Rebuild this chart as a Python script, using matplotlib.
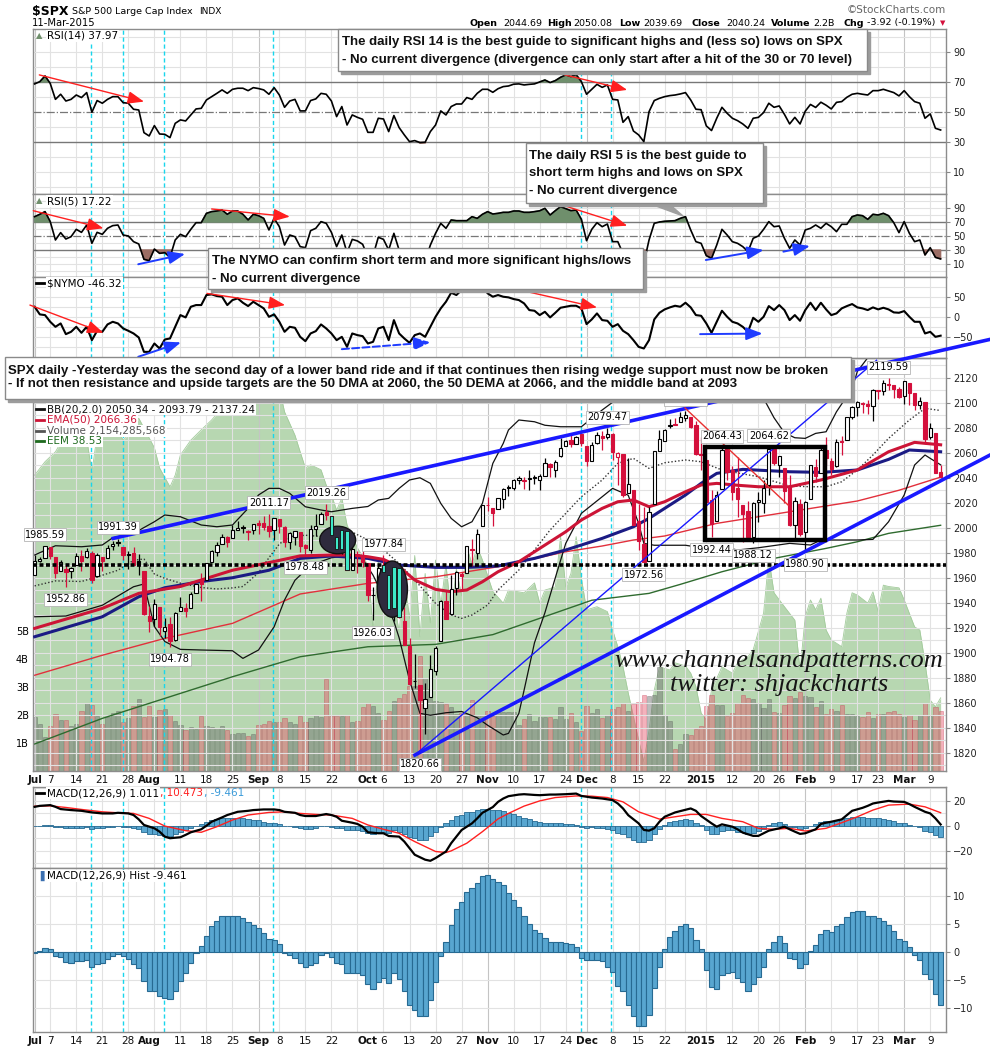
import numpy as np
import pandas as pd
import matplotlib
matplotlib.use('Agg')
import matplotlib.pyplot as plt
from matplotlib.patches import Rectangle, Ellipse, Polygon
from matplotlib.lines import Line2D

plt.rcParams['font.family'] = ['DejaVu Sans']

# ==============================================================
# DATA
# ==============================================================
holidays = ['2014-07-04', '2014-09-01', '2014-11-27', '2014-12-25',
            '2015-01-01', '2015-01-19', '2015-02-16']
dates = pd.bdate_range('2014-07-01', '2015-03-11')
dates = dates[~dates.isin(pd.to_datetime(holidays))]

opens = [
    1962.29, 1973.06, 1975.88, 1984.22, 1976.39, 1965.10, 1966.67, 1965.76, 1969.86, 1977.36,
    1976.35, 1979.75, 1961.54, 1976.93, 1975.65, 1985.32, 1988.07, 1984.60, 1978.25, 1980.03,
    1973.21, 1965.14, 1929.80, 1926.62, 1936.34, 1917.29, 1923.03, 1910.35, 1933.43, 1935.73,
    1935.60, 1947.41, 1958.87, 1958.36, 1972.73, 1980.46, 1986.82, 1992.60, 1991.74, 1998.59,
    2000.54, 1997.42, 1998.45, 2004.07, 2003.57, 2001.67, 1998.00, 2007.17, 2000.73, 1988.41,
    1992.85, 1996.74, 1986.04, 1981.93, 1999.30, 2003.07, 2012.74, 2009.08, 1992.78, 1983.34,
    1997.32, 1966.22, 1978.96, 1978.21, 1971.44, 1945.83, 1948.12, 1970.01, 1962.36, 1935.55,
    1967.68, 1925.63, 1905.65, 1877.11, 1874.18, 1855.95, 1864.91, 1885.62, 1909.38, 1941.29,
    1931.02, 1951.59, 1962.97, 1964.14, 1983.29, 1979.49, 2001.20, 2018.21, 2015.81, 2015.29,
    2023.33, 2032.36, 2032.01, 2038.20, 2037.75, 2039.21, 2039.74, 2038.29, 2041.48, 2051.16,
    2045.87, 2057.46, 2065.07, 2070.15, 2067.04, 2074.78, 2065.78, 2053.77, 2067.45, 2073.64,
    2072.78, 2074.84, 2056.55, 2058.86, 2027.92, 2030.36, 2005.03, 1986.71, 1973.77, 2018.98,
    2061.04, 2069.28, 2081.48, 2083.25, 2084.30, 2087.63, 2088.49, 2082.11, 2058.90, 2054.44,
    2022.15, 2005.55, 2030.61, 2063.45, 2046.13, 2031.58, 2018.40, 2013.75, 1992.25, 2020.76,
    2020.19, 2034.30, 2062.98, 2050.42, 2047.86, 2032.34, 2002.45, 2019.35, 1996.67, 2022.71,
    2048.86, 2043.45, 2062.28, 2053.47, 2049.38, 2068.55, 2069.98, 2088.78, 2096.47, 2099.16,
    2099.25, 2097.65, 2109.83, 2109.10, 2115.30, 2113.91, 2110.88, 2105.23, 2115.76, 2107.72,
    2098.54, 2100.91, 2072.25, 2076.14, 2044.69]
highs = [
    1978.58, 1976.67, 1985.59, 1984.22, 1976.39, 1974.15, 1969.84, 1968.67, 1979.85, 1982.52,
    1983.94, 1981.80, 1979.91, 1976.93, 1986.24, 1989.23, 1991.39, 1984.60, 1981.52, 1984.85,
    1978.90, 1965.14, 1937.35, 1942.92, 1936.34, 1927.91, 1928.89, 1932.38, 1944.90, 1939.65,
    1948.41, 1955.23, 1964.04, 1971.99, 1982.57, 1988.57, 1994.76, 1993.54, 2001.95, 2005.04,
    2002.14, 1998.55, 2003.38, 2006.12, 2009.28, 2011.17, 2007.71, 2007.17, 2001.01, 1996.66,
    1997.65, 1996.74, 1987.18, 2002.28, 2010.74, 2012.34, 2019.26, 2009.08, 1995.41, 1999.79,
    1997.32, 1986.37, 1981.28, 1985.17, 1971.44, 1952.32, 1971.19, 1977.84, 1962.36, 1970.36,
    1967.68, 1936.98, 1912.09, 1898.71, 1874.18, 1876.01, 1898.16, 1905.03, 1942.45, 1949.31,
    1961.95, 1965.27, 1964.64, 1985.05, 1991.40, 1999.40, 2018.19, 2024.46, 2015.98, 2023.77,
    2031.61, 2034.26, 2038.70, 2041.28, 2040.33, 2046.18, 2042.22, 2043.07, 2056.08, 2052.14,
    2053.84, 2071.46, 2070.17, 2074.21, 2073.29, 2075.76, 2065.78, 2068.77, 2076.28, 2077.34,
    2079.47, 2075.78, 2060.60, 2058.86, 2055.53, 2030.36, 2018.69, 2016.89, 2016.75, 2061.23,
    2077.85, 2078.76, 2086.73, 2087.56, 2092.70, 2093.55, 2088.49, 2085.58, 2072.36, 2054.44,
    2030.25, 2029.61, 2064.43, 2064.08, 2049.30, 2056.93, 2018.40, 2021.35, 2020.46, 2028.94,
    2038.29, 2064.62, 2062.98, 2057.62, 2047.86, 2042.49, 2024.64, 2023.32, 2021.66, 2050.30,
    2054.74, 2063.55, 2072.40, 2056.16, 2070.86, 2073.48, 2088.53, 2097.03, 2101.30, 2100.23,
    2102.13, 2110.61, 2110.05, 2117.94, 2119.59, 2113.91, 2112.74, 2117.52, 2115.76, 2107.72,
    2104.25, 2100.91, 2083.49, 2076.14, 2050.08]
lows = [
    1962.29, 1972.58, 1975.88, 1974.88, 1959.46, 1965.10, 1952.86, 1959.63, 1969.86, 1965.34,
    1975.67, 1955.59, 1960.82, 1965.77, 1975.65, 1982.44, 1985.79, 1974.37, 1967.31, 1969.95,
    1962.42, 1930.02, 1916.37, 1921.20, 1913.77, 1911.45, 1904.78, 1909.01, 1933.43, 1928.29,
    1935.60, 1947.41, 1941.50, 1958.36, 1972.73, 1977.68, 1986.82, 1984.76, 1991.74, 1998.59,
    1996.20, 1990.52, 1994.65, 1994.85, 1998.14, 1992.44, 1990.10, 1995.60, 1984.61, 1982.99,
    1985.93, 1980.26, 1978.48, 1979.84, 1993.29, 2003.07, 2006.59, 1991.01, 1982.44, 1978.63,
    1965.99, 1966.22, 1964.04, 1968.96, 1941.72, 1926.03, 1948.12, 1958.43, 1934.87, 1925.25,
    1927.56, 1906.05, 1874.14, 1871.79, 1820.66, 1835.02, 1864.91, 1882.30, 1909.38, 1927.11,
    1931.02, 1946.27, 1951.37, 1964.14, 1969.04, 1974.75, 2001.20, 2013.68, 2001.01, 2015.29,
    2015.86, 2025.07, 2030.17, 2035.28, 2031.26, 2030.44, 2035.20, 2030.20, 2041.48, 2040.37,
    2040.49, 2056.75, 2065.07, 2064.75, 2066.62, 2065.06, 2049.57, 2053.77, 2066.65, 2062.34,
    2070.81, 2054.27, 2034.17, 2024.26, 2027.92, 2002.33, 1982.26, 1972.56, 1973.77, 2018.98,
    2061.03, 2069.28, 2079.77, 2081.86, 2084.30, 2085.75, 2079.53, 2057.94, 2046.04, 2017.34,
    1992.44, 2005.55, 2030.61, 2038.33, 2022.58, 2008.25, 1988.44, 1991.47, 1988.12, 2004.49,
    2012.04, 2026.38, 2050.54, 2040.97, 2019.91, 2001.49, 1989.18, 1993.38, 1980.90, 2022.71,
    2036.72, 2043.45, 2049.97, 2041.88, 2048.62, 2057.99, 2069.98, 2086.70, 2089.80, 2092.15,
    2090.79, 2085.44, 2102.99, 2105.87, 2109.89, 2103.76, 2103.75, 2098.99, 2098.26, 2094.49,
    2095.22, 2067.27, 2071.25, 2044.16, 2039.69]
closes = [
    1973.32, 1974.62, 1985.44, 1977.65, 1963.71, 1972.83, 1964.68, 1967.57, 1977.10, 1973.28,
    1981.57, 1958.12, 1978.22, 1973.63, 1983.53, 1987.01, 1987.98, 1978.34, 1978.91, 1969.95,
    1970.07, 1930.67, 1925.15, 1938.99, 1920.21, 1920.24, 1909.57, 1931.59, 1936.92, 1933.75,
    1946.72, 1955.18, 1955.06, 1971.74, 1981.60, 1986.51, 1992.37, 1988.40, 1997.92, 2000.02,
    2000.12, 1996.74, 2003.37, 2002.28, 2000.72, 1997.65, 2007.71, 2001.54, 1988.44, 1995.69,
    1997.45, 1985.54, 1984.13, 1998.98, 2001.57, 2011.36, 2010.40, 1994.29, 1982.77, 1998.30,
    1965.99, 1982.85, 1977.80, 1972.29, 1946.16, 1946.17, 1967.90, 1964.82, 1935.10, 1968.89,
    1928.21, 1906.13, 1874.74, 1877.70, 1862.49, 1862.76, 1886.76, 1904.01, 1941.28, 1927.11,
    1950.82, 1964.58, 1961.63, 1985.05, 1982.30, 1994.65, 2018.05, 2017.81, 2012.10, 2023.57,
    2031.21, 2031.92, 2038.26, 2039.68, 2038.25, 2039.33, 2039.82, 2041.32, 2051.80, 2048.72,
    2052.75, 2063.50, 2069.41, 2067.03, 2072.83, 2067.56, 2053.44, 2066.55, 2074.33, 2071.92,
    2075.37, 2060.31, 2059.82, 2026.14, 2035.33, 2002.33, 1989.63, 1972.74, 2012.89, 2061.23,
    2070.65, 2078.54, 2082.17, 2081.88, 2088.77, 2090.57, 2080.35, 2058.90, 2058.20, 2020.58,
    2002.61, 2025.90, 2062.14, 2044.81, 2028.26, 2023.03, 2011.27, 1992.67, 2019.42, 2022.55,
    2032.12, 2063.15, 2051.82, 2057.09, 2029.55, 2002.16, 2021.25, 1994.99, 2020.85, 2050.03,
    2041.51, 2062.52, 2055.47, 2046.74, 2068.59, 2068.53, 2088.48, 2096.99, 2100.34, 2099.68,
    2097.45, 2110.30, 2109.66, 2115.48, 2113.86, 2110.74, 2104.50, 2117.39, 2107.78, 2098.53,
    2101.04, 2071.26, 2079.43, 2044.16, 2040.24]
volume_b = [
    1.92, 1.68, 1.21, 1.60, 2.03, 1.82, 1.82, 1.59, 1.68, 2.15,
    2.42, 2.35, 1.98, 1.68, 1.92, 2.07, 2.15, 1.74, 1.88, 2.33,
    2.56, 1.94, 2.33, 1.94, 2.19, 2.23, 2.01, 1.80, 1.65, 1.48,
    1.56, 1.50, 1.98, 1.62, 1.56, 1.54, 1.62, 1.45, 1.33, 1.37,
    1.37, 1.26, 1.33, 1.65, 1.68, 1.78, 1.74, 1.74, 1.89, 1.74,
    1.68, 1.96, 1.74, 1.89, 2.01, 1.92, 3.27, 1.98, 1.98, 1.98,
    2.01, 1.74, 1.80, 2.29, 2.44, 2.33, 2.07, 1.82, 2.15, 2.50,
    2.60, 2.76, 3.05, 3.05, 4.12, 3.33, 2.93, 2.50, 2.48, 2.38,
    2.28, 2.02, 2.08, 2.02, 2.52, 1.98, 2.01, 2.15, 1.98, 2.16,
    2.09, 2.09, 2.10, 1.66, 1.86, 2.03, 1.80, 1.94, 1.92, 1.94,
    1.86, 2.29, 1.86, 2.07, 1.74, 1.42, 2.33, 2.07, 2.21, 1.91,
    2.01, 2.22, 2.27, 2.42, 2.13, 2.41, 2.48, 2.70, 2.68, 2.70,
    3.70, 2.01, 1.80, 0.80, 0.98, 1.31, 1.30, 1.50, 1.60, 2.33,
    2.70, 2.36, 2.36, 1.98, 2.07, 2.44, 2.70, 2.60, 2.57, 2.44,
    2.26, 2.57, 2.09, 2.07, 2.35, 2.68, 2.60, 2.83, 2.68, 2.64,
    2.27, 2.50, 2.02, 2.23, 2.14, 2.35, 2.04, 2.04, 1.96, 1.92,
    2.10, 1.89, 2.04, 2.04, 2.10, 2.14, 2.02, 1.92, 2.00, 1.82,
    2.00, 2.44, 1.96, 2.27, 2.15]

eem_idx = [0, 2, 4, 5, 6, 8, 10, 11, 12, 13, 14, 15, 17, 19, 20, 21, 23, 24, 26, 27,
           28, 30, 32, 34, 36, 38, 39, 41, 43, 45, 47, 48, 50, 51, 52, 53, 55, 56, 57, 58,
           59, 60, 62, 64, 65, 66, 67, 68, 70, 71, 72, 73, 74, 75, 76, 77, 78, 79, 80, 81,
           82, 83, 84, 85, 86, 88, 90, 91, 94, 96, 97, 98, 100, 101, 102, 103, 104, 105, 106, 108,
           110, 111, 112, 113, 114, 116, 117, 118, 119, 120, 122, 123, 125, 126, 127, 128, 129, 130, 132, 134,
           135, 137, 138, 140, 141, 142, 144, 146, 147, 148, 149, 150, 151, 152, 153, 155, 156, 157, 158, 160,
           161, 162, 163, 164, 166, 167, 169, 170, 171, 172, 173, 174]
eem_val = [43.49, 43.79, 44.01, 44.21, 44.27, 44.43, 44.30, 43.56, 44.38, 44.61, 44.38, 44.72, 44.27, 44.50, 44.76, 44.54, 44.10, 43.65, 43.23, 43.49,
           43.94, 44.27, 44.50, 44.72, 44.99, 45.28, 45.65, 45.88, 45.95, 45.80, 45.43, 44.90, 44.38, 44.01, 43.65, 43.72, 43.61, 43.27, 43.05, 42.71,
           42.98, 42.38, 41.87, 41.49, 40.04, 41.60, 40.40, 41.40, 40.00, 41.20, 40.30, 41.70, 39.89, 41.30, 40.20, 41.60, 40.60, 41.50, 40.40, 41.40,
           40.80, 41.90, 41.50, 41.90, 41.60, 40.90, 40.64, 40.93, 40.87, 41.09, 40.64, 40.93, 41.00, 42.12, 41.00, 41.30, 42.12, 41.20, 40.49, 40.56,
           40.45, 40.04, 39.67, 39.22, 38.64, 37.59, 37.11, 37.81, 38.70, 39.22, 39.15, 39.31, 39.24, 39.08, 38.78, 38.19, 38.04, 38.70, 39.22, 39.08,
           39.31, 39.45, 39.60, 40.42, 41.64, 40.87, 40.56, 40.26, 39.15, 40.34, 40.71, 40.49, 40.75, 40.04, 39.82, 39.67, 40.42, 40.87, 40.82, 40.64,
           40.89, 40.45, 41.04, 41.01, 40.98, 40.71, 40.11, 40.04, 39.31, 38.48, 38.33, 38.53]

rsi14 = [
    68.7, 70.2, 74.0, 69.0, 58.4, 61.8, 57.3, 58.4, 61.3, 59.6,
    62.9, 49.8, 57.6, 55.8, 58.4, 60.2, 60.2, 56.2, 55.8, 51.8,
    51.3, 36.2, 34.0, 40.9, 35.3, 35.1, 32.9, 42.4, 44.7, 44.0,
    48.0, 52.0, 52.4, 58.0, 60.2, 62.4, 64.7, 62.4, 65.1, 65.8,
    65.8, 64.2, 66.2, 65.6, 64.7, 61.8, 66.2, 61.3, 53.1, 57.3,
    58.4, 50.7, 50.7, 57.6, 58.7, 62.4, 61.8, 57.3, 46.9, 53.6,
    41.3, 48.0, 46.4, 45.1, 36.4, 36.4, 45.8, 45.3, 36.9, 47.6,
    39.6, 34.7, 30.2, 30.9, 29.6, 29.8, 36.9, 41.3, 50.7, 48.0,
    53.6, 55.3, 55.3, 59.6, 58.4, 62.4, 65.1, 65.1, 63.1, 65.5,
    66.9, 67.3, 68.5, 68.7, 68.0, 68.4, 68.7, 70.0, 71.3, 69.6,
    70.9, 73.1, 74.7, 73.6, 74.9, 70.2, 61.8, 65.1, 68.4, 66.4,
    68.0, 58.4, 58.0, 43.1, 46.9, 37.3, 34.7, 30.2, 50.2, 57.6,
    59.1, 60.2, 60.9, 61.3, 62.0, 62.9, 58.0, 51.8, 51.5, 40.7,
    37.6, 45.8, 53.1, 49.1, 45.8, 44.2, 42.0, 39.1, 45.8, 46.4,
    49.6, 55.8, 53.1, 54.0, 48.4, 42.0, 46.4, 42.0, 50.5, 55.0,
    53.0, 56.5, 54.5, 52.0, 56.4, 56.9, 59.8, 61.8, 62.4, 61.8,
    61.3, 64.2, 64.2, 65.1, 64.0, 62.9, 60.7, 64.2, 60.2, 56.9,
    55.8, 45.8, 48.7, 39.1, 37.97]
rsi5 = [
    77.6, 81.0, 84.8, 70.5, 44.3, 54.8, 45.7, 49.0, 59.5, 55.2,
    65.7, 39.5, 55.2, 52.4, 61.0, 64.8, 65.7, 51.4, 50.0, 41.9,
    38.6, 16.7, 14.8, 31.4, 25.2, 26.2, 19.5, 44.3, 52.4, 49.0,
    59.5, 69.0, 69.0, 82.4, 84.8, 85.7, 87.1, 81.0, 85.7, 85.7,
    81.0, 72.9, 81.0, 79.0, 75.2, 58.6, 75.2, 63.3, 37.1, 51.4,
    49.0, 34.8, 33.3, 57.6, 61.0, 70.5, 68.1, 55.2, 34.8, 51.4,
    26.2, 45.2, 42.9, 38.1, 20.0, 22.0, 48.1, 45.2, 30.0, 53.8,
    30.0, 20.0, 12.0, 14.0, 10.0, 14.0, 37.0, 53.8, 68.0, 61.0,
    72.9, 71.9, 71.9, 71.9, 77.6, 75.2, 81.0, 84.8, 81.4, 82.4,
    83.8, 83.8, 85.7, 85.7, 83.8, 83.8, 84.8, 86.0, 89.5, 80.0,
    86.2, 91.9, 89.0, 86.2, 87.1, 73.8, 43.3, 59.5, 69.0, 63.3,
    67.1, 41.9, 41.9, 25.0, 30.0, 18.0, 14.0, 11.0, 44.3, 68.1,
    70.0, 71.0, 71.5, 71.9, 75.2, 77.6, 58.6, 41.9, 39.5, 21.9,
    18.1, 37.1, 59.5, 51.4, 41.9, 39.5, 34.8, 27.6, 46.7, 50.0,
    59.5, 70.5, 63.3, 64.3, 46.7, 32.4, 44.3, 37.1, 58.6, 61.0,
    65.7, 61.0, 68.1, 63.3, 56.2, 66.7, 66.7, 77.6, 80.0, 79.0,
    73.8, 81.0, 80.0, 82.4, 79.0, 69.0, 54.8, 70.5, 53.8, 41.9,
    44.3, 22.9, 33.3, 19.5, 17.22]
nymo = [
    25.8, 6.7, 5.0, -11.7, -24.2, -15.8, -42.5, -36.7, -24.2, -39.2,
    -24.2, -57.5, -34.2, -36.7, -18.3, -11.7, -15.8, -28.3, -34.2, -40.8,
    -50.8, -86.7, -86.7, -65.8, -78.3, -55.8, -53.3, -24.2, 5.0, -0.8,
    25.8, 30.0, 30.0, 55.0, 56.7, 52.5, 50.8, 30.0, 42.5, 46.7,
    35.8, 27.5, 38.3, 30.0, 21.7, 0.8, 6.7, -11.7, -36.7, -24.2,
    -26.7, -49.2, -60.0, -40.8, -35.0, -18.3, -28.3, -40.8, -57.5, -49.2,
    -74.2, -40.8, -45.0, -47.5, -65.8, -61.7, -28.3, -24.2, -57.5, -7.5,
    -40.8, -53.3, -64.2, -45.0, -40.8, -49.2, -24.2, 0.8, 21.7, 38.3,
    60.8, 55.0, 67.5, 63.3, 74.2, 67.5, 77.5, 59.2, 50.8, 55.0,
    50.8, 49.2, 45.0, 42.5, 34.2, 17.5, 15.8, 5.0, 13.3, -0.8,
    10.8, 23.3, 25.8, 28.3, 28.3, 21.7, -17.5, -5.8, 9.2, -7.5,
    -9.2, -24.2, -17.5, -34.2, -42.5, -57.5, -74.2, -78.3, -57.5, -5.8,
    10.8, 19.2, 24.2, 28.3, 25.8, 35.8, 24.2, 5.0, 3.3, -15.8,
    -39.2, -11.7, 15.8, 0.8, -11.7, -15.8, -24.2, -36.7, -1.7, -11.7,
    0.8, 27.5, 17.5, 30.0, 17.5, -7.5, 5.0, -9.2, 17.5, 35.8,
    17.5, 35.8, 19.2, 5.0, 9.2, 21.7, 27.5, 32.5, 24.2, 21.7,
    17.5, 24.2, 19.2, 23.3, 19.2, 11.7, 10.8, 15.0, 0.8, -11.7,
    -11.7, -40.8, -36.7, -49.2, -46.32]

macd_idx = [0, 1, 3, 4, 5, 7, 9, 11, 13, 15, 16, 18, 19, 20, 21, 23, 24, 25, 26, 28,
            29, 30, 32, 33, 34, 36, 37, 38, 39, 41, 42, 44, 46, 47, 48, 50, 51, 52, 54, 55,
            56, 57, 58, 59, 61, 62, 63, 64, 66, 67, 68, 70, 71, 72, 73, 75, 76, 77, 79, 80,
            81, 82, 84, 85, 86, 88, 89, 90, 91, 93, 94, 96, 97, 99, 100, 102, 104, 105, 107, 109,
            111, 112, 113, 114, 116, 117, 118, 119, 120, 121, 123, 126, 127, 128, 130, 131, 132, 134, 135, 136,
            138, 139, 140, 141, 143, 144, 145, 146, 147, 148, 150, 151, 152, 153, 155, 156, 157, 159, 160, 161,
            162, 164, 165, 167, 168, 169, 171, 172, 173, 174]
macd_val = [15.2, 16.0, 16.6, 15.2, 13.4, 12.6, 12.0, 10.7, 9.9, 9.9, 10.4, 9.9, 8.6, 5.1, 0.6, -2.1, -4.8, -8.8, -10.1, -9.3,
            -7.4, -5.3, -2.9, 0.0, 3.2, 6.7, 8.6, 9.9, 11.2, 12.0, 12.6, 13.1, 13.1, 12.6, 11.2, 10.4, 8.6, 7.8, 7.8, 8.6,
            9.4, 8.6, 7.2, 4.0, 2.4, 1.4, -0.8, -5.3, -6.1, -6.1, -8.3, -8.8, -12.8, -18.1, -23.4, -27.4, -28.3, -26.1, -20.8, -14.1,
            -8.8, -3.5, 1.9, 5.9, 10.4, 15.0, 19.2, 21.9, 23.8, 25.1, 25.4, 24.8, 24.6, 25.1, 25.1, 25.4, 25.9, 24.0, 22.7, 21.9,
            20.6, 17.9, 13.9, 8.5, 1.9, -3.4, -4.0, -2.1, 3.2, 7.2, 10.7, 13.9, 12.0, 7.8, 1.9, -0.8, 1.1, -0.8, -2.9, -5.6,
            -8.2, -8.2, -6.1, -4.0, -2.1, -0.8, -2.9, -4.8, -6.6, -6.1, -2.9, 1.4, 2.4, 3.2, 5.1, 8.6, 12.0, 14.4, 16.0, 17.9,
            18.7, 20.0, 19.5, 19.2, 17.4, 15.2, 11.2, 9.9, 5.9, 1.011]
signal_idx = [0, 3, 6, 9, 13, 16, 19, 22, 25, 29, 32, 35, 38, 41, 45, 48, 51, 54, 57, 61,
              64, 67, 70, 73, 77, 79, 80, 83, 86, 88, 89, 91, 94, 97, 100, 104, 107, 110, 113, 116,
              120, 123, 126, 129, 132, 136, 139, 142, 145, 148, 152, 155, 158, 161, 164, 168, 171, 174]
signal_val = [15.7, 16.0, 14.7, 13.1, 11.2, 10.4, 9.9, 5.9, -0.3, -4.0, -5.3, -0.8, 4.6, 8.6, 10.7, 11.2, 9.9, 9.1, 8.6, 5.9,
              0.6, -2.9, -6.1, -12.8, -20.8, -21.6, -20.3, -14.1, -4.8, 2.0, 5.5, 9.9, 15.8, 20.0, 22.7, 24.0, 23.8, 22.7, 19.2, 11.2,
              5.3, 7.2, 9.1, 9.1, 5.9, 3.2, -2.1, -2.9, -2.1, -4.3, -2.1, 2.4, 7.2, 12.6, 16.6, 17.4, 15.2, 10.473]
macd_hist = [
    -0.2, 0.1, 0.7, 0.5, -0.8, -0.9, -1.8, -2.0, -1.7, -1.7,
    -1.4, -2.6, -2.1, -2.0, -1.3, -0.7, -0.3, -0.8, -1.3, -2.1,
    -2.9, -5.2, -7.0, -7.0, -7.8, -8.2, -8.4, -6.9, -5.1, -3.8,
    -2.0, -0.1, 1.1, 2.8, 4.6, 5.6, 6.5, 6.5, 6.5, 6.5,
    6.1, 5.3, 4.8, 4.2, 3.3, 2.3, 2.2, 1.4, -0.1, -0.6,
    -1.1, -2.0, -2.7, -2.3, -2.0, -0.5, -0.1, -0.9, -2.0, -2.1,
    -3.8, -3.8, -3.8, -4.1, -5.7, -6.6, -5.3, -4.7, -5.6, -3.8,
    -4.9, -6.9, -9.4, -10.3, -11.5, -11.4, -8.6, -5.4, -0.7, 1.8,
    4.9, 7.7, 8.9, 10.8, 11.4, 12.3, 13.5, 13.7, 13.0, 12.5,
    12.0, 10.5, 9.2, 8.0, 6.5, 5.0, 3.9, 3.3, 2.5, 1.8,
    1.8, 1.8, 1.6, 1.4, 0.8, -1.1, -1.5, -1.4, -1.5, -1.7,
    -2.7, -3.5, -6.1, -7.0, -9.5, -11.5, -13.3, -13.2, -11.2, -6.4,
    -2.6, 0.5, 2.6, 3.7, 4.6, 5.0, 4.3, 2.1, 0.5, -3.2,
    -6.3, -6.6, -4.2, -3.8, -3.6, -4.7, -5.4, -6.9, -5.7, -4.5,
    -2.7, 0.5, 1.8, 2.8, 1.6, -1.0, -1.3, -2.9, -2.1, 0.1,
    1.2, 3.2, 3.9, 3.5, 4.6, 5.0, 6.2, 7.1, 7.4, 7.3,
    6.5, 6.5, 6.1, 5.6, 4.8, 3.7, 2.3, 1.9, 0.9, -0.5,
    -1.4, -3.9, -4.9, -7.6, -9.46]

# overlays on the price chart (bar index, value)
bb_up_idx = [0, 4, 9, 13, 15, 19, 23, 25, 28, 32, 35, 38, 41, 43, 45, 47, 49, 52, 55, 57,
             61, 64, 66, 68, 70, 72, 74, 76, 78, 80, 82, 84, 86, 88, 90, 91, 93, 96, 98, 101,
             105, 109, 112, 114, 116, 118, 122, 126, 130, 134, 137, 140, 142, 144, 146, 148, 150, 152, 154, 157,
             158, 160, 163, 168, 171, 174]
bb_up_val = [1978.2, 1985.6, 1984.8, 1986.2, 1992.0, 1995.5, 2004.8, 2010.2, 2008.8, 2002.2, 2000.8, 2002.2, 2015.5, 2026.2, 2031.5, 2031.5, 2027.5, 2016.8, 2014.2, 2012.8,
             2015.5, 2017.0, 2022.2, 2023.5, 2031.5, 2038.2, 2040.0, 2035.5, 2019.5, 2007.5, 2000.8, 2004.8, 2019.5, 2051.5, 2067.5, 2078.2, 2086.2, 2084.8, 2082.0, 2080.8,
             2080.8, 2094.2, 2103.5, 2111.5, 2118.0, 2122.0, 2120.0, 2117.0, 2118.0, 2115.0, 2110.0, 2103.5, 2088.0, 2076.0, 2072.0, 2071.5, 2075.5, 2076.8, 2092.8, 2111.5,
             2125.0, 2136.0, 2142.0, 2141.0, 2139.0, 2137.24]
bb_mid_idx = [0, 4, 9, 13, 16, 19, 21, 23, 25, 28, 32, 35, 38, 40, 43, 45, 47, 49, 52, 55,
              57, 61, 64, 67, 70, 73, 77, 80, 82, 84, 87, 89, 93, 96, 99, 102, 105, 109, 112, 115,
              118, 121, 125, 128, 132, 139, 145, 149, 152, 155, 158, 161, 164, 168, 171, 174]
bb_mid_val = [1953.5, 1957.5, 1957.0, 1962.0, 1966.0, 1974.0, 1975.0, 1963.0, 1959.5, 1955.7, 1952.2, 1951.0, 1951.9, 1953.0, 1964.0, 1976.0, 1987.0, 1993.0, 1994.0, 1993.0,
              1995.0, 1996.5, 1990.2, 1982.2, 1971.5, 1958.2, 1939.5, 1930.2, 1927.5, 1930.2, 1938.2, 1950.2, 1966.2, 1982.2, 1998.2, 2011.5, 2024.8, 2038.2, 2051.5, 2055.5,
              2047.5, 2052.0, 2054.2, 2052.8, 2046.2, 2040.8, 2033.4, 2032.8, 2032.8, 2036.8, 2046.2, 2058.2, 2071.5, 2086.2, 2095.5, 2093.79]
bb_low_idx = [0, 6, 13, 19, 21, 23, 25, 28, 32, 38, 40, 43, 46, 48, 50, 53, 57, 61, 63, 65,
              67, 69, 70, 72, 74, 76, 79, 82, 85, 87, 90, 91, 93, 94, 96, 98, 100, 102, 105, 109,
              111, 114, 116, 117, 119, 122, 125, 128, 132, 135, 139, 145, 149, 151, 158, 161, 164, 167, 169, 171,
              172, 174]
bb_low_val = [1928.8, 1929.4, 1938.0, 1952.8, 1955.0, 1921.0, 1909.0, 1902.7, 1902.2, 1901.6, 1895.5, 1902.2, 1920.8, 1942.2, 1958.0, 1970.0, 1976.0, 1978.0, 1975.0, 1962.0,
              1945.0, 1925.0, 1912.0, 1878.0, 1851.5, 1850.0, 1852.0, 1853.0, 1848.0, 1842.0, 1834.2, 1835.5, 1851.5, 1870.0, 1908.0, 1932.0, 1960.0, 1987.5, 2011.5, 2024.8,
              2031.5, 2026.0, 2003.5, 1987.5, 1986.0, 1986.0, 1986.0, 1984.0, 1984.8, 1982.2, 1984.0, 1987.5, 1986.2, 1990.2, 1990.2, 1990.7, 2004.8, 2026.2, 2050.2, 2058.2,
              2055.5, 2050.34]
ema50_idx = [0, 13, 20, 28, 38, 46, 51, 57, 61, 64, 67, 70, 73, 77, 80, 83, 86, 89, 93, 96,
             99, 102, 105, 109, 112, 115, 118, 121, 125, 128, 131, 135, 139, 145, 151, 158, 164, 169, 174]
ema50_val = [1919.5, 1935.5, 1947.5, 1953.0, 1966.0, 1973.0, 1977.5, 1978.2, 1978.2, 1976.8, 1974.7, 1968.8, 1958.2, 1950.7, 1948.8, 1950.2, 1956.8, 1964.8, 1972.8, 1980.8,
             1988.8, 1996.8, 2006.2, 2015.5, 2020.8, 2022.2, 2016.8, 2020.8, 2028.8, 2034.2, 2035.5, 2034.0, 2032.8, 2032.8, 2038.2, 2046.2, 2060.8, 2068.3, 2066.36]
sma50_idx = [0, 13, 20, 25, 32, 38, 45, 51, 57, 64, 70, 77, 83, 89, 96, 102, 109, 115, 118, 121,
             125, 128, 131, 136, 145, 151, 158, 164, 168, 174]
sma50_val = [1912.8, 1928.8, 1944.8, 1952.0, 1957.0, 1960.0, 1966.0, 1975.5, 1977.4, 1975.5, 1970.2, 1968.3, 1968.3, 1969.4, 1975.5, 1982.2, 1991.5, 2000.8, 2007.5, 2015.5,
             2026.2, 2035.5, 2043.5, 2046.7, 2044.8, 2044.3, 2046.2, 2054.7, 2062.2, 2060.8]
ma100_idx = [0, 13, 25, 38, 51, 64, 77, 83, 89, 102, 109, 115, 121, 131, 145, 158, 166, 174]
ma100_val = [1882.0, 1898.0, 1911.5, 1923.5, 1947.0, 1955.5, 1960.8, 1964.8, 1968.8, 1980.8, 1985.4, 1990.2, 1993.4, 2003.5, 2012.8, 2021.4, 2030.0, 2040.5]
sma200_idx = [0, 13, 25, 38, 51, 64, 77, 88, 107, 118, 124, 132, 142, 152, 158, 164, 174]
sma200_val = [1827.0, 1847.5, 1863.5, 1880.8, 1896.8, 1904.8, 1906.7, 1914.5, 1942.0, 1947.5, 1954.7, 1964.8, 1975.5, 1983.5, 1988.8, 1995.5, 2001.98]

# hand-drawn annotations (bar index, value)
marker_days = [10.9, 17.0, 24.9, 45.8, 104.9, 110.7]
upper_channel = [(15.1, 1991.5), (183.5, 2150.7)]
lower_channel = [(73.05, 1818.2), (183.5, 2058.2)]
steep_line = [(73.05, 1818.2), (161.7, 2134.0)]
red_diag = [(124.9, 2095.8), (144.7, 2018.2)]
support_level = 1970.2
range_box = (128.7, 1990.2, 151.8, 2064.8)
highlight_1 = [57, 58, 59, 60]
highlight_2 = [67, 68, 69, 70]
price_labels = [(2, 'h'), (16, 'h'), (6, 'l'), (26, 'l'), (45, 'h'), (56, 'h'), (52, 'l'),
                (67, 'h'), (65, 'l'), (74, 'l'), (110, 'h'), (125, 'h'), (132, 'h'), (141, 'h'),
                (117, 'l'), (130, 'l'), (138, 'l'), (148, 'l'), (164, 'h')]
rsi14_arrows = [((0.9, 74.7), (21.0, 56.9), 'r'), ((101.8, 74.7), (113.8, 64.7), 'r')]
rsi5_arrows = [((-0.25, 86.1), (13.2, 61.0), 'r'), ((34.0, 88.6), (49.0, 77.6), 'r'),
               ((19.9, 9.6), (28.9, 24.3), 'b'), ((99.9, 97.6), (113.8, 64.7), 'r'),
               ((128.9, 15.7), (140.0, 30.0), 'b'), ((143.8, 27.6), (148.9, 35.7), 'b')]
nymo_arrows = [((-0.9, 30), (13.2, -39), 'r'), ((19.9, -99), (28.1, -63), 'b'),
               ((33.1, 59), (48.1, 30), 'r'), ((59, -80), (76, -63), 'bd'),
               ((93.2, 67.5), (108, 24), 'r'), ((127.8, -42.5), (139.8, -41), 'b')]

# ==============================================================
# LAYOUT
# ==============================================================
W, H = 990, 1051
fig = plt.figure(figsize=(W / 100, H / 100), dpi=100)
fig.patch.set_facecolor('white')
n = len(closes)
x = np.arange(n)
XL = (-0.31, 175.03)
RED = '#d4103c'
GRID = '#e2e2e2'


def fx(px):
    return px / W


def fy(py):
    return 1 - py / H


def rect(top, bottom):
    return [fx(33), fy(bottom), 913 / W, (bottom - top) / H]


month_starts = [i for i in range(n) if i == 0 or dates[i].month != dates[i - 1].month]
week_starts = [i for i in range(n) if i == 0 or
               dates[i].isocalendar()[1] != dates[i - 1].isocalendar()[1]]
tick_pos, tick_lab, tick_bold = [], [], []
for i in range(n):
    if i in month_starts:
        tick_pos.append(i)
        tick_lab.append('2015' if dates[i].month == 1 else dates[i].strftime('%b'))
        tick_bold.append(True)
    elif i in week_starts:
        if any(0 < m - i <= 3 or 0 < i - m <= 2 for m in month_starts):
            continue
        tick_pos.append(i)
        tick_lab.append(str(dates[i].day))
        tick_bold.append(False)


def setup(ax, ylim, yticks, ylabels=None, hgrid=()):
    ax.set_xlim(XL)
    ax.set_ylim(ylim)
    ax.yaxis.tick_right()
    ax.set_yticks(yticks)
    if ylabels is not None:
        ax.set_yticklabels(ylabels)
    ax.tick_params(axis='y', length=3, labelsize=7, colors='#888', labelcolor='#222', pad=2)
    ax.tick_params(axis='x', length=0, labelbottom=False)
    for s in ax.spines.values():
        s.set_color('#8c8c8c')
        s.set_linewidth(1)
    for w in week_starts:
        ax.axvline(w, color='#c4c4c4' if w in month_starts else GRID, lw=0.8, zorder=0)
    for g in hgrid:
        ax.axhline(g, color=GRID, lw=0.8, zorder=0)
    for d in marker_days:
        ax.axvline(d, color='#18d6ec', lw=1.0, ls=(0, (3, 2)), zorder=1)


def arrow(ax, p0, p1, kind):
    color = '#ff1f1f' if kind.startswith('r') else '#1f3cff'
    ax.annotate('', xy=p1, xytext=p0, annotation_clip=False,
                arrowprops=dict(arrowstyle='-|>,head_length=0.9,head_width=0.35',
                                color=color, lw=1.0 if kind == 'r' else 1.4,
                                ls='--' if kind == 'bd' else '-',
                                shrinkA=0, shrinkB=0, mutation_scale=11))


def rsi_panel(ax, vals, ylim):
    vals = np.array(vals)
    setup(ax, ylim, [10, 30, 50, 70, 90], hgrid=[0, 10, 20, 40, 60, 80, 90, 100])
    ax.axhline(70, color='#777', lw=1.0, zorder=1)
    ax.axhline(30, color='#777', lw=1.0, zorder=1)
    ax.axhline(50, color='#777', lw=0.9, ls='-.', zorder=1)
    ax.fill_between(x, vals, 70, where=vals >= 70, interpolate=True, color='#6f8f6c', zorder=2)
    ax.fill_between(x, vals, 30, where=vals <= 30, interpolate=True, color='#9c6d64', zorder=2)
    ax.plot(x, vals, color='black', lw=1.2, zorder=3)


# ---------------- RSI(14) ----------------
ax_r14 = fig.add_axes(rect(29, 194))
rsi_panel(ax_r14, rsi14, (-4.7, 105.3))
for p0, p1, k in rsi14_arrows:
    arrow(ax_r14, p0, p1, k)

# ---------------- RSI(5) ----------------
ax_r5 = fig.add_axes(rect(194, 277))
rsi_panel(ax_r5, rsi5, (-8.6, 110))
for p0, p1, k in rsi5_arrows:
    arrow(ax_r5, p0, p1, k)

# ---------------- NYMO ----------------
ax_ny = fig.add_axes(rect(277, 358))
setup(ax_ny, (-102, 100), [-50, 0, 50], hgrid=[-75, -50, -25, 0, 25, 50, 75])
ax_ny.plot(x, nymo, color='black', lw=1.5, zorder=3)
for p0, p1, k in nymo_arrows:
    arrow(ax_ny, p0, p1, k)

# ---------------- price panel (EEM area, volume, price) ----------------
r_main = rect(358, 771)
ax_eem = fig.add_axes(r_main, zorder=1, label='eem')
ax_eem.set_xlim(XL)
ax_eem.set_ylim(36.9, 46.1)
ax_eem.axis('off')
ax_eem.fill_between(eem_idx, eem_val, 36.9, color='#b7d7b1', lw=0)
ax_eem.plot(eem_idx, eem_val, color='#a3cb9c', lw=0.6)

ax_vol = fig.add_axes(r_main, zorder=2, label='vol')
ax_vol.patch.set_visible(False)
ax_vol.set_xlim(XL)
ax_vol.set_ylim(0, 14.75)
for s in ax_vol.spines.values():
    s.set_visible(False)
ax_vol.set_xticks([])
ax_vol.set_yticks([1, 2, 3, 4, 5])
ax_vol.set_yticklabels(['1B', '2B', '3B', '4B', '5B'])
ax_vol.tick_params(axis='y', length=0, labelsize=7, pad=3)
o, h, l, c = (np.array(v) for v in (opens, highs, lows, closes))
prev = np.r_[o[0], c[:-1]]
down = c < prev
ax_vol.bar(x, volume_b, 0.82, color=np.where(down, '#e8546c', '#6a6a6a'), alpha=0.45,
           edgecolor=np.where(down, '#c0304a', '#555555'), linewidth=0.5)

ax = fig.add_axes(r_main, zorder=3, label='main')
ax.patch.set_visible(False)
setup(ax, (1805.4, 2135.8), np.arange(1820, 2121, 20), hgrid=np.arange(1810, 2131, 10))

ax.plot(sma200_idx, sma200_val, color='#2f6b2f', lw=1.0, zorder=2)
ax.plot(ma100_idx, ma100_val, color='#e2303c', lw=1.0, zorder=2)
ax.plot(bb_up_idx, bb_up_val, color='#111', lw=0.9, zorder=2)
ax.plot(bb_low_idx, bb_low_val, color='#111', lw=0.9, zorder=2)
ax.plot(bb_mid_idx, bb_mid_val, color='#333', lw=1.0, ls=(0, (1, 1.5)), zorder=2)
ax.plot(sma50_idx, sma50_val, color='#1b1b84', lw=2.2, zorder=3)
ax.plot(ema50_idx, ema50_val, color='#cc1436', lw=2.2, zorder=3)
ax.axhline(support_level, color='black', lw=2.6, ls=(0, (1.1, 0.7)), zorder=6)

ccol = np.where(down, RED, 'black')
ax.vlines(x, l, h, colors=ccol, lw=0.9, zorder=4)
body_lo = np.minimum(o, c)
body_h = np.maximum(np.abs(c - o), 0.5)
ax.bar(x, body_h, 0.64, bottom=body_lo, color=np.where(c < o, ccol, 'white'),
       edgecolor=ccol, linewidth=0.8, zorder=5)

ax.add_patch(Ellipse((58.2, 1990.2), 6.9, 22, facecolor='#2e2a3d', edgecolor='#111', lw=1, zorder=7))
ax.add_patch(Ellipse((68.7, 1950.9), 5.8, 45, facecolor='#2e2a3d', edgecolor='#111', lw=1, zorder=7))
for grp in (highlight_1, highlight_2):
    gi = np.array(grp)
    ax.bar(gi, body_h[gi], 0.64, bottom=body_lo[gi], color='#3ee8c8', edgecolor='#111',
           linewidth=0.6, zorder=8)

for pts, lw in ((upper_channel, 2.6), (lower_channel, 2.6), (steep_line, 1.0)):
    (x0, y0), (x1, y1) = pts
    ax.plot([x0, x1], [y0, y1], color='#1919ff', lw=lw, zorder=9, clip_on=False)
(x0, y0), (x1, y1) = red_diag
ax.plot([x0, x1], [y0, y1], color='#e83030', lw=1.0, zorder=9)
bx0, by0, bx1, by1 = range_box
ax.add_patch(Rectangle((bx0, by0), bx1 - bx0, by1 - by0, fill=False, ec='black', lw=3.2, zorder=9))

for idx, kind in price_labels:
    val = highs[idx] if kind == 'h' else lows[idx]
    ax.annotate(f'{val:.2f}', (idx, val), xytext=(0, 8 if kind == 'h' else -9),
                textcoords='offset points', ha='center', va='center', fontsize=7, zorder=10,
                bbox=dict(boxstyle='square,pad=0.15', fc='white', ec='#b4b4b4', lw=0.6))

# ---------------- MACD ----------------
ax_m = fig.add_axes(rect(787, 868))
setup(ax_m, (-34.1, 31.2), [-20, 0, 20], hgrid=[-30, -20, -10, 0, 10, 20, 30])
ax_m.bar(x, macd_hist, 1.0, color='#58a6d0', edgecolor='#276a92', linewidth=0.6, zorder=2)
ax_m.plot(signal_idx, signal_val, color='#ff2020', lw=1.0, zorder=3)
ax_m.plot(macd_idx, macd_val, color='black', lw=1.6, zorder=4)

ax_h = fig.add_axes(rect(868, 1032))
setup(ax_h, (-14.3, 15.0), [-10, -5, 0, 5, 10], hgrid=[-10, -5, 0, 5, 10])
ax_h.bar(x, macd_hist, 1.0, color='#58a6d0', edgecolor='#276a92', linewidth=0.8, zorder=2)

for axx in (ax, ax_h):
    axx.set_xticks(tick_pos)
    axx.set_xticklabels(tick_lab)
    axx.tick_params(axis='x', labelbottom=True, length=0, pad=3, labelsize=7.5, labelcolor='#111')
    for lab, b in zip(axx.get_xticklabels(), tick_bold):
        if b:
            lab.set_fontweight('bold')

# ==============================================================
# TEXT
# ==============================================================
fig.text(fx(32), fy(11), '$SPX', fontsize=9, fontweight='bold', va='center')
fig.text(fx(72), fy(11), 'S&P 500 Large Cap Index', fontsize=6.8, va='center')
fig.text(fx(199), fy(11), 'INDX', fontsize=6.5, va='center')
fig.text(fx(32), fy(23), '11-Mar-2015', fontsize=7.2, va='center')
fig.text(fx(946), fy(10), '\u00a9StockCharts.com', fontsize=7.5, va='center', ha='right', color='#666')
head = [(470, 'Open', True), (503, '2044.69', False), (547, 'High', True), (573, '2050.08', False),
        (619, 'Low', True), (643, '2039.69', False), (691, 'Close', True), (726, '2040.24', False),
        (771, 'Volume', True), (813, '2.2B', False), (844, 'Chg', True), (867, '-3.92 (-0.19%)', False)]
for px, t, b in head:
    fig.text(fx(px), fy(23), t, fontsize=6.8, va='center', fontweight='bold' if b else 'normal')
fig.text(fx(943), fy(23), '\u25bc', fontsize=5, va='center', ha='center', color=RED)

lab_kw = dict(fontsize=7.5, va='center', zorder=6, bbox=dict(fc='white', ec='none', pad=0.8))
fig.text(fx(36), fy(36), '\u25b2', fontsize=6, va='center', color='#6f8f6c', zorder=6)
fig.text(fx(47), fy(36), 'RSI(14) 37.97', **lab_kw)
fig.text(fx(36), fy(201), '\u25b2', fontsize=6, va='center', color='#6f8f6c', zorder=6)
fig.text(fx(47), fy(201), 'RSI(5) 17.22', **lab_kw)
fig.text(fx(47), fy(283), '$NYMO -46.32', **lab_kw)
fig.add_artist(Line2D([fx(36), fx(44)], [fy(283), fy(283)], color='black', lw=2, zorder=6))

legend_rows = [(398, 'MA(200) 2001.98', '#2f6b2f'), (409, 'BB(20,2.0) 2050.34 - 2093.79 - 2137.24', '#111'),
               (420, 'EMA(50) 2066.36', '#cc1436'), (431, 'Volume 2,154,285,568', '#555'),
               (441, 'EEM 38.53', '#1f6b1f')]
for yy, t, col in legend_rows:
    fig.text(fx(47), fy(yy), t, color=col, **lab_kw)
    fig.add_artist(Line2D([fx(36), fx(44)], [fy(yy), fy(yy)], color=col, lw=2, zorder=6))

fig.text(fx(47), fy(793), 'MACD(12,26,9) 1.011', **lab_kw)
fig.text(fx(160), fy(793), ', 10.473', color='#ff2020', fontsize=7.5, va='center', zorder=6)
fig.text(fx(204), fy(793), ', -9.461', color='#3a9ad9', fontsize=7.5, va='center', zorder=6)
fig.add_artist(Line2D([fx(36), fx(44)], [fy(793), fy(793)], color='black', lw=2, zorder=6))
fig.text(fx(47), fy(876), 'MACD(12,26,9) Hist -9.461', **lab_kw)
fig.text(fx(36), fy(876), '\u2590', fontsize=7, va='center', color='#3a6fb0', zorder=6)

fig.text(fx(779), fy(661), 'www.channelsandpatterns.com', fontsize=19, style='italic',
         family='Liberation Serif', ha='center', va='center', color='#151515', zorder=6)
fig.text(fx(779), fy(685), 'twitter: shjackcharts', fontsize=19, style='italic',
         family='Liberation Serif', ha='center', va='center', color='#151515', zorder=6)


def note(x0, y0, x1, y1, lines, ys, tx, size=9.5):
    fig.patches.append(Rectangle((fx(x0 + 3), fy(y1 + 3)), (x1 - x0) / W, (y1 - y0) / H,
                                 transform=fig.transFigure, color='#9c9c9c', zorder=7))
    fig.patches.append(Rectangle((fx(x0), fy(y1)), (x1 - x0) / W, (y1 - y0) / H,
                                 transform=fig.transFigure, facecolor='white',
                                 edgecolor='#8a8a8a', lw=1, zorder=8))
    for t, yy in zip(lines, ys):
        fig.text(fx(tx), fy(yy), t, fontsize=size, fontweight='bold', family='Liberation Sans',
                 va='center', ha='left', color='#111', zorder=9)


note(338, 29, 867, 71,
     ['The daily RSI 14 is the best guide to significant highs and (less so) lows on SPX',
      '- No current divergence (divergence can only start after a hit of the 30 or 70 level)'],
     [42, 60], 342)
fig.patches.append(Polygon([(fx(648), fy(203)), (fx(668), fy(203)), (fx(683), fy(216))],
                           closed=True, transform=fig.transFigure, color='#a0a0a0', zorder=7))
note(526, 143, 763, 203,
     ['The daily RSI 5 is the best guide to', 'short term highs and lows on SPX',
      '- No current divergence'],
     [156, 173, 191], 529)
note(208, 248, 643, 289,
     ['The NYMO can confirm short term and more significant highs/lows',
      '- No current divergence'],
     [261, 279], 212)
note(5, 357, 851, 399,
     ['SPX daily -Yesterday was the second day of a lower band ride and if that continues then rising wedge support must now be broken',
      '- If not then resistance and upside targets are the 50 DMA at 2060, the 50 DEMA at 2066, and the middle band at 2093'],
     [371, 384], 8)

fig.savefig('out.png', dpi=100)
